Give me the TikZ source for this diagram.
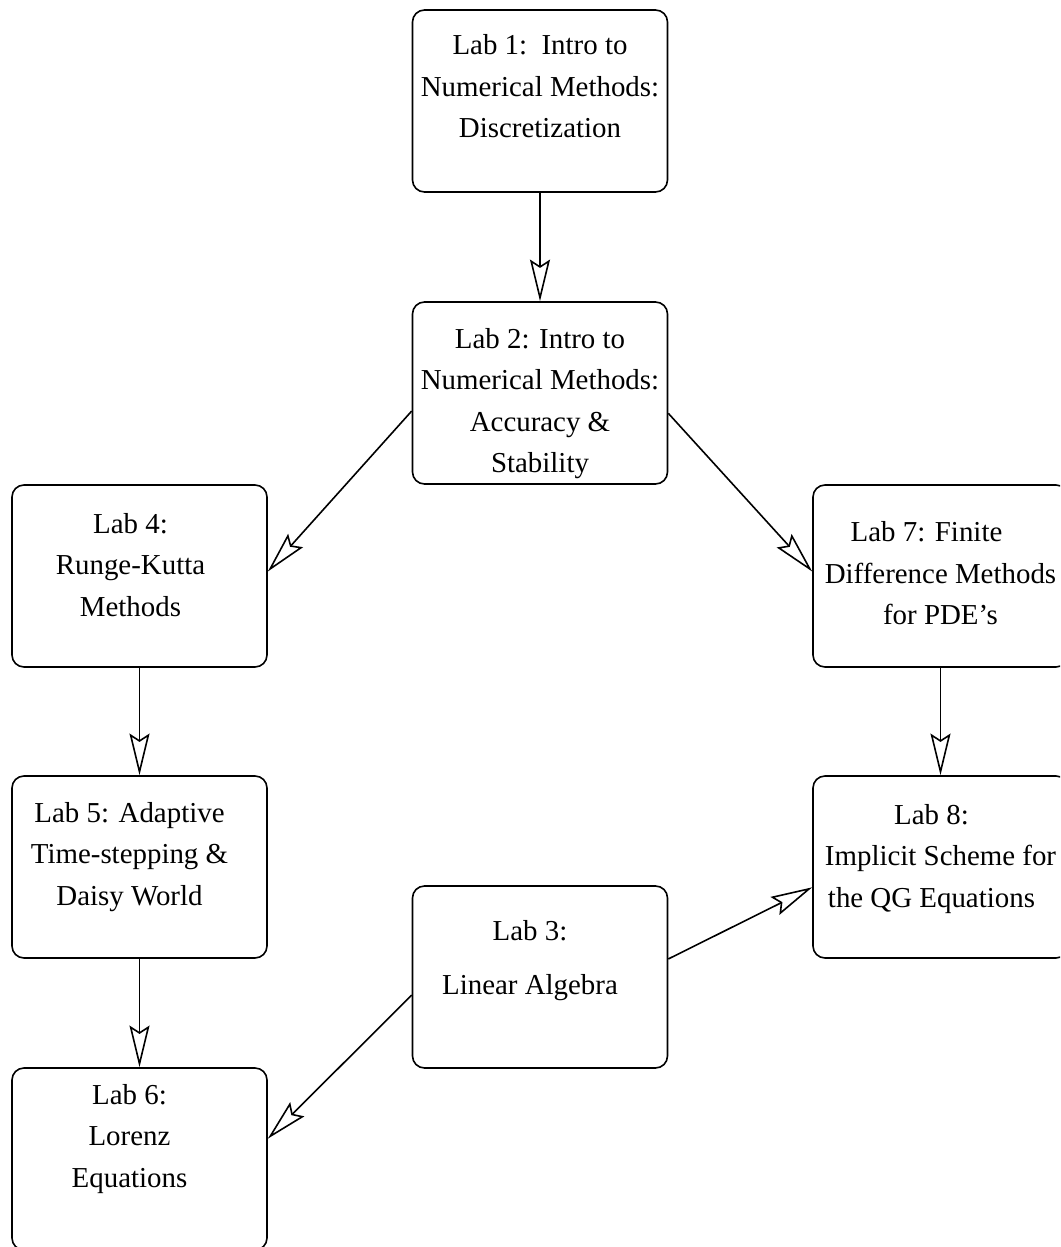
\documentclass[tikz,border=0pt]{standalone}
\usepackage{fontspec}
\setmainfont{Liberation Serif}
\usetikzlibrary{arrows.meta}

\begin{document}
\begin{tikzpicture}[x=0.5pt, y=-0.5pt, line width=0.8pt,
    labbox/.style={draw, rounded corners=6pt, minimum width=127.5pt, minimum height=91pt},
    labtext/.style={align=center, font=\fontsize{14.45pt}{20.75pt}\selectfont},
    flow/.style={-{Stealth[open, length=20.8pt, width=10pt, inset=3.2pt]}}]
  \useasboundingbox (0,0) rectangle (1060,1247);
  \clip (0,0) rectangle (1060,1247);
  \node[labbox, label={[labtext, yshift=7.2pt]center:{Lab 1:\ \ Intro to\\Numerical Methods:\\Discretization}}] (lab1) at (540,101) {};
  \node[labbox, label={[labtext, yshift=-5.4pt]center:{Lab 2: Intro to\\Numerical Methods:\\Accuracy \&\\Stability}}] (lab2) at (540,393) {};
  \node[labbox, label={[labtext, xshift=-4.5pt, yshift=5.5pt]center:{Lab 4:\\Runge-Kutta\\Methods}}] (lab4) at (139.5,576) {};
  \node[labbox, label={[labtext, yshift=1.2pt]center:{Lab 7: Finite\hspace*{14pt}\\Difference Methods\\for PDE’s}}] (lab7) at (940.5,576) {};
  \node[labbox, label={[labtext, xshift=-5pt, yshift=5.2pt]center:{Lab 5: Adaptive\\Time-stepping \&\\Daisy World}}] (lab5) at (139.5,867) {};
  \node[labbox, label={[labtext, yshift=4.2pt]center:{Lab 8:\hspace*{9pt}\\Implicit Scheme for\\the QG Equations\hspace*{9pt}}}] (lab8) at (940.5,867) {};
  \node[labbox, label={[labtext, xshift=-5pt, yshift=8pt]center:{Lab 3:\\[6.25pt]Linear Algebra}}] (lab3) at (540,977) {};
  \node[labbox, label={[labtext, xshift=-5pt, yshift=10pt]center:{Lab 6:\\Lorenz\\Equations}}] (lab6) at (139.5,1159) {};
  \draw[flow] (lab1) -- (lab2);
  \draw[flow] (lab2.188.5) -- (lab4.2);
  \draw[flow] (lab2.351.5) -- (lab7.178);
  \draw[flow] (lab4) -- (lab5);
  \draw[flow] (lab5) -- (lab6);
  \draw[flow] (lab7) -- (lab8);
  \draw[flow] (lab3.188) -- (lab6.9);
  \draw[flow] (lab3.8.5) -- (lab8.189);
\end{tikzpicture}
\end{document}
